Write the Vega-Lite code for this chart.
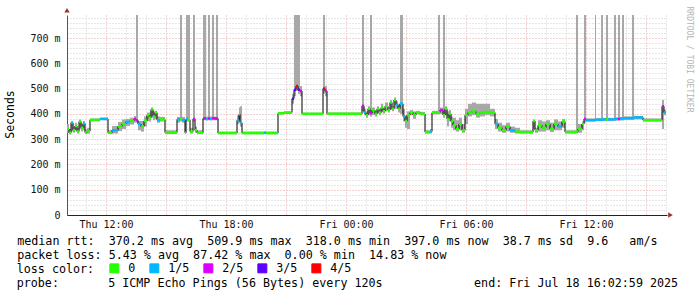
{
  "$schema": "https://vega.github.io/schema/vega-lite/v6.json",
  "width": 600,
  "height": 200,
  "autosize": {"type": "none"},
  "padding": {"left": 67, "top": 15, "right": 30, "bottom": 82},
  "background": "white",
  "config": {"view": {"stroke": null}, "font": "DejaVu Sans Mono"},
  "title": {
    "text": "probe:\u00a0\u00a0\u00a0\u00a0\u00a0\u00a0\u00a05 ICMP Echo Pings (56 Bytes) every 120s\u00a0\u00a0\u00a0\u00a0\u00a0\u00a0\u00a0\u00a0\u00a0\u00a0\u00a0\u00a0\u00a0end: Fri Jul 18 16:02:59 2025",
    "orient": "bottom",
    "anchor": "start",
    "frame": "group",
    "font": "DejaVu Sans Mono",
    "fontSize": 11.7,
    "fontWeight": "normal",
    "color": "#000000",
    "baseline": "top",
    "dx": -50.3,
    "offset": 2
  },
  "datasets": {
    "s": [
      {"t":"2025-07-17T10:03:00Z","e":"2025-07-17T10:09:00Z","m":340,"lo":325,"hi":360,"l":"0"},
      {"t":"2025-07-17T10:09:00Z","e":"2025-07-17T10:15:00Z","m":325,"lo":318,"hi":340,"l":"0"},
      {"t":"2025-07-17T10:15:00Z","e":"2025-07-17T10:21:00Z","m":365,"lo":330,"hi":370,"l":"1/5"},
      {"t":"2025-07-17T10:21:00Z","e":"2025-07-17T10:27:00Z","m":335,"lo":325,"hi":350,"l":"0"},
      {"t":"2025-07-17T10:27:00Z","e":"2025-07-17T10:33:00Z","m":352,"lo":335,"hi":365,"l":"0"},
      {"t":"2025-07-17T10:33:00Z","e":"2025-07-17T10:39:00Z","m":330,"lo":322,"hi":345,"l":"0"},
      {"t":"2025-07-17T10:39:00Z","e":"2025-07-17T10:45:00Z","m":370,"lo":340,"hi":378,"l":"0"},
      {"t":"2025-07-17T10:45:00Z","e":"2025-07-17T10:51:00Z","m":345,"lo":330,"hi":360,"l":"0"},
      {"t":"2025-07-17T10:51:00Z","e":"2025-07-17T10:57:00Z","m":362,"lo":335,"hi":372,"l":"1/5"},
      {"t":"2025-07-17T10:57:00Z","e":"2025-07-17T11:03:00Z","m":326,"lo":320,"hi":340,"l":"0"},
      {"t":"2025-07-17T11:03:00Z","e":"2025-07-17T11:12:00Z","m":332,"lo":322,"hi":345,"l":"0"},
      {"t":"2025-07-17T11:12:00Z","e":"2025-07-17T11:42:00Z","m":376,"lo":372,"hi":382,"l":"0"},
      {"t":"2025-07-17T11:42:00Z","e":"2025-07-17T12:06:00Z","m":380,"lo":375,"hi":385,"l":"1/5"},
      {"t":"2025-07-17T12:06:00Z","e":"2025-07-17T12:18:00Z","m":325,"lo":320,"hi":335,"l":"0"},
      {"t":"2025-07-17T12:18:00Z","e":"2025-07-17T12:36:00Z","m":335,"lo":322,"hi":352,"l":"1/5"},
      {"t":"2025-07-17T12:36:00Z","e":"2025-07-17T12:48:00Z","m":350,"lo":332,"hi":368,"l":"0"},
      {"t":"2025-07-17T12:48:00Z","e":"2025-07-17T13:00:00Z","m":360,"lo":340,"hi":378,"l":"0"},
      {"t":"2025-07-17T13:00:00Z","e":"2025-07-17T13:12:00Z","m":368,"lo":352,"hi":380,"l":"1/5"},
      {"t":"2025-07-17T13:12:00Z","e":"2025-07-17T13:24:00Z","m":372,"lo":358,"hi":385,"l":"0"},
      {"t":"2025-07-17T13:24:00Z","e":"2025-07-17T13:30:00Z","m":380,"lo":365,"hi":392,"l":"2/5"},
      {"t":"2025-07-17T13:30:00Z","e":"2025-07-17T13:36:00Z","m":375,"lo":365,"hi":800,"l":"2/5"},
      {"t":"2025-07-17T13:36:00Z","e":"2025-07-17T13:45:00Z","m":360,"lo":335,"hi":372,"l":"1/5"},
      {"t":"2025-07-17T13:45:00Z","e":"2025-07-17T13:54:00Z","m":350,"lo":330,"hi":372,"l":"0"},
      {"t":"2025-07-17T13:54:00Z","e":"2025-07-17T14:03:00Z","m":372,"lo":350,"hi":390,"l":"0"},
      {"t":"2025-07-17T14:03:00Z","e":"2025-07-17T14:09:00Z","m":395,"lo":372,"hi":405,"l":"0"},
      {"t":"2025-07-17T14:09:00Z","e":"2025-07-17T14:15:00Z","m":385,"lo":370,"hi":405,"l":"0"},
      {"t":"2025-07-17T14:15:00Z","e":"2025-07-17T14:21:00Z","m":418,"lo":385,"hi":425,"l":"0"},
      {"t":"2025-07-17T14:21:00Z","e":"2025-07-17T14:27:00Z","m":390,"lo":375,"hi":410,"l":"0"},
      {"t":"2025-07-17T14:27:00Z","e":"2025-07-17T14:33:00Z","m":405,"lo":380,"hi":412,"l":"0"},
      {"t":"2025-07-17T14:33:00Z","e":"2025-07-17T14:42:00Z","m":375,"lo":365,"hi":390,"l":"1/5"},
      {"t":"2025-07-17T14:42:00Z","e":"2025-07-17T14:57:00Z","m":378,"lo":370,"hi":388,"l":"0"},
      {"t":"2025-07-17T14:57:00Z","e":"2025-07-17T15:33:00Z","m":326,"lo":320,"hi":335,"l":"0"},
      {"t":"2025-07-17T15:33:00Z","e":"2025-07-17T15:42:00Z","m":378,"lo":365,"hi":388,"l":"1/5"},
      {"t":"2025-07-17T15:42:00Z","e":"2025-07-17T15:48:00Z","m":380,"lo":370,"hi":800,"l":"0"},
      {"t":"2025-07-17T15:48:00Z","e":"2025-07-17T15:57:00Z","m":375,"lo":365,"hi":388,"l":"1/5"},
      {"t":"2025-07-17T15:57:00Z","e":"2025-07-17T16:00:00Z","m":325,"lo":320,"hi":335,"l":"0"},
      {"t":"2025-07-17T16:00:00Z","e":"2025-07-17T16:06:00Z","m":380,"lo":370,"hi":800,"l":"1/5"},
      {"t":"2025-07-17T16:06:00Z","e":"2025-07-17T16:12:00Z","m":376,"lo":370,"hi":800,"l":"0"},
      {"t":"2025-07-17T16:12:00Z","e":"2025-07-17T16:21:00Z","m":330,"lo":322,"hi":345,"l":"0"},
      {"t":"2025-07-17T16:21:00Z","e":"2025-07-17T16:27:00Z","m":380,"lo":370,"hi":800,"l":"2/5"},
      {"t":"2025-07-17T16:27:00Z","e":"2025-07-17T16:33:00Z","m":335,"lo":325,"hi":350,"l":"0"},
      {"t":"2025-07-17T16:33:00Z","e":"2025-07-17T16:51:00Z","m":325,"lo":320,"hi":335,"l":"0"},
      {"t":"2025-07-17T16:51:00Z","e":"2025-07-17T17:00:00Z","m":382,"lo":375,"hi":800,"l":"2/5"},
      {"t":"2025-07-17T17:00:00Z","e":"2025-07-17T17:06:00Z","m":380,"lo":375,"hi":390,"l":"1/5"},
      {"t":"2025-07-17T17:06:00Z","e":"2025-07-17T17:12:00Z","m":382,"lo":375,"hi":800,"l":"2/5"},
      {"t":"2025-07-17T17:12:00Z","e":"2025-07-17T17:18:00Z","m":380,"lo":375,"hi":390,"l":"1/5"},
      {"t":"2025-07-17T17:18:00Z","e":"2025-07-17T17:24:00Z","m":383,"lo":375,"hi":800,"l":"2/5"},
      {"t":"2025-07-17T17:24:00Z","e":"2025-07-17T17:30:00Z","m":382,"lo":375,"hi":390,"l":"2/5"},
      {"t":"2025-07-17T17:30:00Z","e":"2025-07-17T17:36:00Z","m":382,"lo":375,"hi":800,"l":"2/5"},
      {"t":"2025-07-17T17:36:00Z","e":"2025-07-17T18:33:00Z","m":324,"lo":320,"hi":330,"l":"0"},
      {"t":"2025-07-17T18:33:00Z","e":"2025-07-17T18:39:00Z","m":375,"lo":360,"hi":395,"l":"1/5"},
      {"t":"2025-07-17T18:39:00Z","e":"2025-07-17T18:42:00Z","m":398,"lo":370,"hi":425,"l":"0"},
      {"t":"2025-07-17T18:42:00Z","e":"2025-07-17T18:48:00Z","m":365,"lo":350,"hi":430,"l":"1/5"},
      {"t":"2025-07-17T18:48:00Z","e":"2025-07-17T19:54:00Z","m":324,"lo":320,"hi":330,"l":"0"},
      {"t":"2025-07-17T19:54:00Z","e":"2025-07-17T20:00:00Z","m":325,"lo":320,"hi":330,"l":"1/5"},
      {"t":"2025-07-17T20:00:00Z","e":"2025-07-17T20:36:00Z","m":324,"lo":320,"hi":330,"l":"0"},
      {"t":"2025-07-17T20:36:00Z","e":"2025-07-17T20:54:00Z","m":402,"lo":398,"hi":408,"l":"0"},
      {"t":"2025-07-17T20:54:00Z","e":"2025-07-17T21:18:00Z","m":405,"lo":400,"hi":410,"l":"0"},
      {"t":"2025-07-17T21:18:00Z","e":"2025-07-17T21:24:00Z","m":460,"lo":440,"hi":480,"l":"3/5"},
      {"t":"2025-07-17T21:24:00Z","e":"2025-07-17T21:30:00Z","m":495,"lo":470,"hi":800,"l":"3/5"},
      {"t":"2025-07-17T21:30:00Z","e":"2025-07-17T21:36:00Z","m":510,"lo":490,"hi":800,"l":"4/5"},
      {"t":"2025-07-17T21:36:00Z","e":"2025-07-17T21:42:00Z","m":495,"lo":480,"hi":800,"l":"3/5"},
      {"t":"2025-07-17T21:42:00Z","e":"2025-07-17T21:48:00Z","m":490,"lo":470,"hi":510,"l":"2/5"},
      {"t":"2025-07-17T21:48:00Z","e":"2025-07-17T22:51:00Z","m":400,"lo":396,"hi":405,"l":"0"},
      {"t":"2025-07-17T22:51:00Z","e":"2025-07-17T22:57:00Z","m":500,"lo":480,"hi":800,"l":"4/5"},
      {"t":"2025-07-17T22:57:00Z","e":"2025-07-17T23:03:00Z","m":490,"lo":470,"hi":510,"l":"2/5"},
      {"t":"2025-07-17T23:03:00Z","e":"2025-07-18T00:48:00Z","m":400,"lo":396,"hi":405,"l":"0"},
      {"t":"2025-07-18T00:48:00Z","e":"2025-07-18T00:54:00Z","m":432,"lo":410,"hi":800,"l":"2/5"},
      {"t":"2025-07-18T00:54:00Z","e":"2025-07-18T01:00:00Z","m":405,"lo":395,"hi":420,"l":"1/5"},
      {"t":"2025-07-18T01:00:00Z","e":"2025-07-18T01:06:00Z","m":395,"lo":385,"hi":410,"l":"0"},
      {"t":"2025-07-18T01:06:00Z","e":"2025-07-18T01:12:00Z","m":420,"lo":395,"hi":430,"l":"0"},
      {"t":"2025-07-18T01:12:00Z","e":"2025-07-18T01:18:00Z","m":402,"lo":390,"hi":800,"l":"2/5"},
      {"t":"2025-07-18T01:18:00Z","e":"2025-07-18T01:27:00Z","m":415,"lo":395,"hi":425,"l":"0"},
      {"t":"2025-07-18T01:27:00Z","e":"2025-07-18T01:33:00Z","m":400,"lo":390,"hi":410,"l":"0"},
      {"t":"2025-07-18T01:33:00Z","e":"2025-07-18T01:39:00Z","m":420,"lo":400,"hi":430,"l":"0"},
      {"t":"2025-07-18T01:39:00Z","e":"2025-07-18T01:45:00Z","m":405,"lo":395,"hi":415,"l":"0"},
      {"t":"2025-07-18T01:45:00Z","e":"2025-07-18T01:51:00Z","m":425,"lo":405,"hi":440,"l":"0"},
      {"t":"2025-07-18T01:51:00Z","e":"2025-07-18T01:57:00Z","m":410,"lo":400,"hi":420,"l":"0"},
      {"t":"2025-07-18T01:57:00Z","e":"2025-07-18T02:06:00Z","m":430,"lo":410,"hi":445,"l":"0"},
      {"t":"2025-07-18T02:06:00Z","e":"2025-07-18T02:12:00Z","m":415,"lo":405,"hi":425,"l":"0"},
      {"t":"2025-07-18T02:12:00Z","e":"2025-07-18T02:18:00Z","m":445,"lo":415,"hi":455,"l":"0"},
      {"t":"2025-07-18T02:18:00Z","e":"2025-07-18T02:24:00Z","m":420,"lo":410,"hi":430,"l":"0"},
      {"t":"2025-07-18T02:24:00Z","e":"2025-07-18T02:30:00Z","m":455,"lo":420,"hi":465,"l":"0"},
      {"t":"2025-07-18T02:30:00Z","e":"2025-07-18T02:36:00Z","m":435,"lo":420,"hi":450,"l":"1/5"},
      {"t":"2025-07-18T02:36:00Z","e":"2025-07-18T02:42:00Z","m":420,"lo":405,"hi":440,"l":"0"},
      {"t":"2025-07-18T02:42:00Z","e":"2025-07-18T02:51:00Z","m":440,"lo":400,"hi":800,"l":"1/5"},
      {"t":"2025-07-18T02:51:00Z","e":"2025-07-18T02:57:00Z","m":390,"lo":370,"hi":420,"l":"1/5"},
      {"t":"2025-07-18T02:57:00Z","e":"2025-07-18T03:03:00Z","m":372,"lo":345,"hi":395,"l":"0"},
      {"t":"2025-07-18T03:03:00Z","e":"2025-07-18T03:12:00Z","m":395,"lo":340,"hi":410,"l":"0"},
      {"t":"2025-07-18T03:12:00Z","e":"2025-07-18T03:21:00Z","m":405,"lo":395,"hi":415,"l":"0"},
      {"t":"2025-07-18T03:21:00Z","e":"2025-07-18T03:30:00Z","m":395,"lo":380,"hi":410,"l":"0"},
      {"t":"2025-07-18T03:30:00Z","e":"2025-07-18T03:42:00Z","m":405,"lo":398,"hi":412,"l":"0"},
      {"t":"2025-07-18T03:42:00Z","e":"2025-07-18T03:57:00Z","m":400,"lo":395,"hi":408,"l":"0"},
      {"t":"2025-07-18T03:57:00Z","e":"2025-07-18T04:12:00Z","m":328,"lo":322,"hi":335,"l":"0"},
      {"t":"2025-07-18T04:12:00Z","e":"2025-07-18T04:18:00Z","m":330,"lo":322,"hi":340,"l":"1/5"},
      {"t":"2025-07-18T04:18:00Z","e":"2025-07-18T04:27:00Z","m":405,"lo":398,"hi":412,"l":"0"},
      {"t":"2025-07-18T04:27:00Z","e":"2025-07-18T04:36:00Z","m":405,"lo":398,"hi":412,"l":"0"},
      {"t":"2025-07-18T04:36:00Z","e":"2025-07-18T04:42:00Z","m":405,"lo":398,"hi":800,"l":"0"},
      {"t":"2025-07-18T04:42:00Z","e":"2025-07-18T04:51:00Z","m":415,"lo":400,"hi":425,"l":"2/5"},
      {"t":"2025-07-18T04:51:00Z","e":"2025-07-18T04:57:00Z","m":395,"lo":385,"hi":800,"l":"0"},
      {"t":"2025-07-18T04:57:00Z","e":"2025-07-18T05:03:00Z","m":420,"lo":395,"hi":430,"l":"0"},
      {"t":"2025-07-18T05:03:00Z","e":"2025-07-18T05:09:00Z","m":380,"lo":350,"hi":410,"l":"0"},
      {"t":"2025-07-18T05:09:00Z","e":"2025-07-18T05:15:00Z","m":400,"lo":370,"hi":415,"l":"0"},
      {"t":"2025-07-18T05:15:00Z","e":"2025-07-18T05:21:00Z","m":370,"lo":345,"hi":390,"l":"0"},
      {"t":"2025-07-18T05:21:00Z","e":"2025-07-18T05:30:00Z","m":355,"lo":335,"hi":385,"l":"0"},
      {"t":"2025-07-18T05:30:00Z","e":"2025-07-18T05:39:00Z","m":340,"lo":330,"hi":375,"l":"0"},
      {"t":"2025-07-18T05:39:00Z","e":"2025-07-18T05:48:00Z","m":360,"lo":335,"hi":385,"l":"0"},
      {"t":"2025-07-18T05:48:00Z","e":"2025-07-18T05:57:00Z","m":335,"lo":325,"hi":360,"l":"0"},
      {"t":"2025-07-18T05:57:00Z","e":"2025-07-18T06:06:00Z","m":395,"lo":360,"hi":420,"l":"0"},
      {"t":"2025-07-18T06:06:00Z","e":"2025-07-18T06:18:00Z","m":405,"lo":390,"hi":440,"l":"0"},
      {"t":"2025-07-18T06:18:00Z","e":"2025-07-18T06:30:00Z","m":410,"lo":395,"hi":445,"l":"0"},
      {"t":"2025-07-18T06:30:00Z","e":"2025-07-18T06:42:00Z","m":400,"lo":385,"hi":440,"l":"0"},
      {"t":"2025-07-18T06:42:00Z","e":"2025-07-18T06:57:00Z","m":405,"lo":390,"hi":440,"l":"0"},
      {"t":"2025-07-18T06:57:00Z","e":"2025-07-18T07:12:00Z","m":408,"lo":395,"hi":440,"l":"0"},
      {"t":"2025-07-18T07:12:00Z","e":"2025-07-18T07:27:00Z","m":405,"lo":390,"hi":420,"l":"0"},
      {"t":"2025-07-18T07:27:00Z","e":"2025-07-18T07:36:00Z","m":360,"lo":340,"hi":380,"l":"1/5"},
      {"t":"2025-07-18T07:36:00Z","e":"2025-07-18T07:48:00Z","m":345,"lo":330,"hi":365,"l":"0"},
      {"t":"2025-07-18T07:48:00Z","e":"2025-07-18T08:00:00Z","m":335,"lo":325,"hi":355,"l":"0"},
      {"t":"2025-07-18T08:00:00Z","e":"2025-07-18T08:12:00Z","m":350,"lo":330,"hi":365,"l":"0"},
      {"t":"2025-07-18T08:12:00Z","e":"2025-07-18T08:27:00Z","m":335,"lo":325,"hi":350,"l":"1/5"},
      {"t":"2025-07-18T08:27:00Z","e":"2025-07-18T08:42:00Z","m":330,"lo":322,"hi":345,"l":"0"},
      {"t":"2025-07-18T08:42:00Z","e":"2025-07-18T09:21:00Z","m":328,"lo":322,"hi":335,"l":"0"},
      {"t":"2025-07-18T09:21:00Z","e":"2025-07-18T09:27:00Z","m":372,"lo":340,"hi":378,"l":"0"},
      {"t":"2025-07-18T09:27:00Z","e":"2025-07-18T09:36:00Z","m":335,"lo":325,"hi":345,"l":"0"},
      {"t":"2025-07-18T09:36:00Z","e":"2025-07-18T09:48:00Z","m":355,"lo":330,"hi":375,"l":"0"},
      {"t":"2025-07-18T09:48:00Z","e":"2025-07-18T10:00:00Z","m":345,"lo":330,"hi":370,"l":"0"},
      {"t":"2025-07-18T10:00:00Z","e":"2025-07-18T10:12:00Z","m":360,"lo":335,"hi":375,"l":"0"},
      {"t":"2025-07-18T10:12:00Z","e":"2025-07-18T10:24:00Z","m":340,"lo":328,"hi":365,"l":"0"},
      {"t":"2025-07-18T10:24:00Z","e":"2025-07-18T10:36:00Z","m":360,"lo":335,"hi":378,"l":"0"},
      {"t":"2025-07-18T10:36:00Z","e":"2025-07-18T10:48:00Z","m":350,"lo":335,"hi":370,"l":"1/5"},
      {"t":"2025-07-18T10:48:00Z","e":"2025-07-18T10:57:00Z","m":370,"lo":345,"hi":380,"l":"0"},
      {"t":"2025-07-18T10:57:00Z","e":"2025-07-18T11:30:00Z","m":328,"lo":322,"hi":335,"l":"0"},
      {"t":"2025-07-18T11:30:00Z","e":"2025-07-18T11:36:00Z","m":330,"lo":322,"hi":800,"l":"0"},
      {"t":"2025-07-18T11:36:00Z","e":"2025-07-18T11:48:00Z","m":340,"lo":325,"hi":360,"l":"0"},
      {"t":"2025-07-18T11:48:00Z","e":"2025-07-18T11:54:00Z","m":360,"lo":335,"hi":370,"l":"0"},
      {"t":"2025-07-18T11:54:00Z","e":"2025-07-18T12:00:00Z","m":380,"lo":365,"hi":800,"l":"2/5"},
      {"t":"2025-07-18T12:00:00Z","e":"2025-07-18T12:27:00Z","m":375,"lo":370,"hi":382,"l":"1/5"},
      {"t":"2025-07-18T12:27:00Z","e":"2025-07-18T12:30:00Z","m":376,"lo":370,"hi":800,"l":"1/5"},
      {"t":"2025-07-18T12:30:00Z","e":"2025-07-18T12:45:00Z","m":377,"lo":372,"hi":383,"l":"1/5"},
      {"t":"2025-07-18T12:45:00Z","e":"2025-07-18T12:51:00Z","m":377,"lo":372,"hi":800,"l":"1/5"},
      {"t":"2025-07-18T12:51:00Z","e":"2025-07-18T13:00:00Z","m":378,"lo":372,"hi":384,"l":"1/5"},
      {"t":"2025-07-18T13:00:00Z","e":"2025-07-18T13:06:00Z","m":378,"lo":372,"hi":800,"l":"0"},
      {"t":"2025-07-18T13:06:00Z","e":"2025-07-18T13:24:00Z","m":378,"lo":372,"hi":384,"l":"1/5"},
      {"t":"2025-07-18T13:24:00Z","e":"2025-07-18T13:30:00Z","m":380,"lo":372,"hi":800,"l":"1/5"},
      {"t":"2025-07-18T13:30:00Z","e":"2025-07-18T13:36:00Z","m":380,"lo":374,"hi":386,"l":"1/5"},
      {"t":"2025-07-18T13:36:00Z","e":"2025-07-18T13:42:00Z","m":380,"lo":374,"hi":800,"l":"2/5"},
      {"t":"2025-07-18T13:42:00Z","e":"2025-07-18T13:48:00Z","m":382,"lo":374,"hi":388,"l":"1/5"},
      {"t":"2025-07-18T13:48:00Z","e":"2025-07-18T13:54:00Z","m":382,"lo":374,"hi":800,"l":"1/5"},
      {"t":"2025-07-18T13:54:00Z","e":"2025-07-18T14:18:00Z","m":383,"lo":376,"hi":390,"l":"1/5"},
      {"t":"2025-07-18T14:18:00Z","e":"2025-07-18T14:24:00Z","m":384,"lo":376,"hi":800,"l":"1/5"},
      {"t":"2025-07-18T14:24:00Z","e":"2025-07-18T14:51:00Z","m":386,"lo":378,"hi":392,"l":"1/5"},
      {"t":"2025-07-18T14:51:00Z","e":"2025-07-18T15:48:00Z","m":375,"lo":370,"hi":382,"l":"0"},
      {"t":"2025-07-18T15:48:00Z","e":"2025-07-18T15:54:00Z","m":430,"lo":340,"hi":455,"l":"2/5"},
      {"t":"2025-07-18T15:54:00Z","e":"2025-07-18T16:00:00Z","m":405,"lo":395,"hi":415,"l":"1/5"}
    ]
  },
  "encoding": {
    "x": {
      "field": "t", "type": "temporal",
      "scale": {"type": "utc", "domain": [
        {"year": 2025, "month": 7, "date": 17, "hours": 10, "minutes": 3, "utc": true},
        {"year": 2025, "month": 7, "date": 18, "hours": 16, "minutes": 3, "utc": true}
      ]},
      "axis": {
        "orient": "bottom",
        "title": [
          "median rtt:\u00a0 370.2 ms avg\u00a0 509.9 ms max\u00a0 318.0 ms min\u00a0 397.0 ms now\u00a0 38.7 ms sd\u00a0 9.6\u00a0\u00a0 am/s",
          "packet loss: 5.43 % avg\u00a0 87.42 % max\u00a0 0.00 % min\u00a0 14.83 % now"
        ],
        "titleX": -50.3,
        "titleY": 20.5,
        "titleAlign": "left",
        "titleBaseline": "top",
        "titleLineHeight": 13.9,
        "titleFont": "DejaVu Sans Mono",
        "titleFontSize": 11.7,
        "titleFontWeight": "normal",
        "titleColor": "#000000",
        "tickCount": 30,
        "format": "%a %H:%M",
        "labelExpr": "round(datum.value / 3600000) % 6 == 0 ? datum.label : ''",
        "labelOverlap": false,
        "labelFlush": false,
        "labelFont": "DejaVu Sans Mono",
        "labelFontSize": 10,
        "labelColor": "#111111",
        "labelPadding": 4,
        "ticks": false,
        "domainColor": "#222222",
        "domainWidth": 1,
        "grid": true,
        "gridColor": {"condition": {"test": "round(datum.value / 3600000) % 3 == 0", "value": "#e6a3a3"}, "value": "#cfcfcf"},
        "gridDash": [1, 2],
        "gridWidth": 1
      }
    }
  },
  "layer": [
    {
      "data": {"name": "s"},
      "mark": {"type": "rect", "color": "#a8a8a8", "clip": true},
      "encoding": {
        "x2": {"field": "e"},
        "y": {
          "field": "lo", "type": "quantitative",
          "scale": {"domain": [0, 791], "nice": false, "zero": true},
          "axis": {
            "title": "Seconds",
            "values": [0,20,40,60,80,100,120,140,160,180,200,220,240,260,280,300,320,340,360,380,400,420,440,460,480,500,520,540,560,580,600,620,640,660,680,700,720,740,760,780],
            "labelExpr": "datum.value % 100 == 0 ? (datum.value == 0 ? '0' : datum.value + ' m') : ''",
            "labelOverlap": false,
            "labelFont": "DejaVu Sans Mono",
            "labelFontSize": 10,
            "labelColor": "#111111",
            "labelPadding": 7,
            "ticks": false,
            "domainColor": "#555555",
            "grid": true,
            "gridColor": {"condition": {"test": "datum.value % 100 == 0", "value": "#e6a3a3"}, "value": "#cfcfcf"},
            "gridDash": [1, 2],
            "gridWidth": 1,
            "titleFont": "DejaVu Sans Mono",
            "titleFontSize": 11.5,
            "titleFontWeight": "normal",
            "titleColor": "#000000",
            "titleAngle": 270,
            "titleX": -57,
            "titleY": 99,
            "titleAlign": "center",
            "titleBaseline": "middle"
          }
        },
        "y2": {"field": "hi"}
      }
    },
    {
      "data": {"name": "s"},
      "mark": {"type": "line", "interpolate": "step-after", "color": "#000000", "strokeWidth": 1},
      "encoding": {
        "y": {
          "field": "m", "type": "quantitative",
          "axis": {
            "orient": "right",
            "title": "RRDTOOL / TOBI OETIKER",
            "labels": false, "ticks": false, "domain": false, "grid": false,
            "titleAngle": 90,
            "titleX": 21,
            "titleY": 44,
            "titleAlign": "center",
            "titleBaseline": "middle",
            "titleFont": "DejaVu Sans Mono",
            "titleFontSize": 8,
            "titleFontWeight": "normal",
            "titleColor": "#b4b4b4"
          }
        }
      }
    },
    {
      "data": {"name": "s"},
      "mark": {"type": "rule", "strokeWidth": 2.5},
      "encoding": {
        "x2": {"field": "e"},
        "y": {"field": "m", "type": "quantitative", "axis": null},
        "color": {
          "field": "l", "type": "nominal",
          "scale": {"domain": ["0", "1/5", "2/5", "3/5", "4/5"], "range": ["#26ff00", "#00b8ff", "#dd00ff", "#5e00ff", "#ff0000"]},
          "legend": {
            "orient": "none",
            "legendX": -50.3,
            "legendY": 247.5,
            "direction": "horizontal",
            "gridAlign": "none",
            "title": "loss color:",
            "titleOrient": "left",
            "titleAnchor": "middle",
            "titleBaseline": "middle",
            "titlePadding": 13.8,
            "titleFont": "DejaVu Sans Mono",
            "titleFontSize": 11.7,
            "titleFontWeight": "normal",
            "titleColor": "#000000",
            "padding": 0,
            "symbolType": "square",
            "symbolSize": 81,
            "symbolStrokeWidth": 1,
            "symbolStrokeColor": "#000000",
            "labelFont": "DejaVu Sans Mono",
            "labelFontSize": 11.7,
            "labelColor": "#000000",
            "labelOffset": 8,
            "columnPadding": 12,
            "encode": {"symbols": {"update": {"fill": {"scale": "color", "field": "value"}, "stroke": {"value": "#000000"}, "strokeWidth": {"value": 1}, "opacity": {"value": 1}}}}
          }
        }
      }
    },
    {
      "data": {"values": [{"t": "2025-07-17T10:03:00Z", "v": 810}]},
      "mark": {"type": "point", "shape": "triangle-up", "filled": true, "clip": false, "color": "#a03030", "size": 28, "opacity": 1},
      "encoding": {
        "y": {"field": "v", "type": "quantitative", "axis": null}
      }
    },
    {
      "data": {"values": [{"t": "2025-07-18T16:13:30Z", "v": 0}]},
      "mark": {"type": "point", "shape": "triangle-right", "filled": true, "clip": false, "color": "#a03030", "size": 28, "opacity": 1},
      "encoding": {
        "y": {"field": "v", "type": "quantitative", "axis": null}
      }
    }
  ],
  "resolve": {"axis": {"y": "independent"}}
}
